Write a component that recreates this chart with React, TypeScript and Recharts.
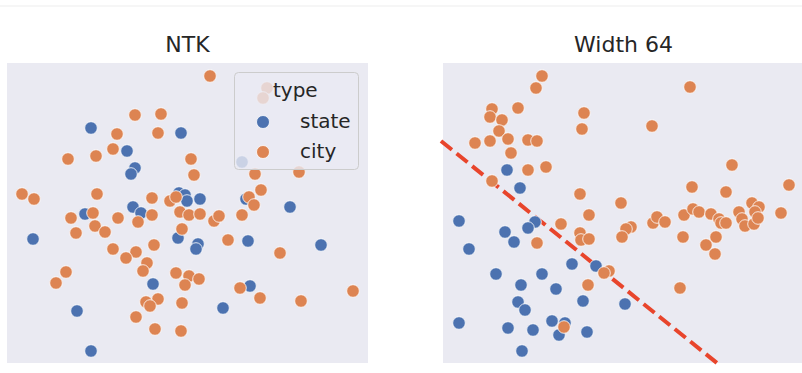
import { ScatterChart, Scatter, XAxis, YAxis, CartesianGrid, ReferenceLine } from "recharts";

// embedding coordinates (arbitrary units, y up)
const ntkState = [
  [84, 235], [174, 230], [120, 212], [128, 195], [124, 189], [235, 201], [172, 170], [178, 168],
  [180, 162], [193, 164], [239, 164], [283, 156], [126, 156], [134, 150], [78, 149], [26, 124],
  [171, 125], [191, 119], [189, 114], [241, 122], [314, 118], [146, 79], [243, 77], [216, 55],
  [70, 52], [84, 12],
];

const ntkCity = [
  [203, 287], [128, 248], [154, 249], [110, 229], [151, 230], [106, 214], [61, 204], [89, 207],
  [184, 204], [187, 188], [248, 189], [292, 191], [260, 275], [256, 265], [254, 173], [15, 169],
  [27, 164], [90, 169], [145, 165], [163, 162], [169, 166], [242, 166], [247, 158], [145, 148],
  [86, 150], [64, 145], [111, 145], [131, 141], [173, 151], [182, 148], [193, 149], [207, 142],
  [212, 147], [235, 148], [88, 137], [69, 130], [98, 131], [175, 134], [221, 123], [147, 118],
  [106, 114], [129, 111], [119, 105], [273, 110], [140, 100], [136, 92], [59, 91], [49, 80],
  [169, 90], [182, 87], [192, 84], [178, 78], [233, 75], [253, 65], [346, 72], [294, 62],
  [151, 64], [139, 61], [143, 57], [175, 60], [129, 46], [148, 34], [174, 32],
];

const w64State = [
  [64, 193], [77, 175], [16, 142], [92, 141], [85, 135], [62, 131], [71, 121], [26, 114],
  [129, 99], [153, 97], [53, 89], [99, 89], [78, 78], [113, 74], [75, 61], [140, 62],
  [82, 53], [182, 59], [16, 40], [65, 35], [90, 33], [109, 42], [122, 40], [116, 28],
  [144, 31], [79, 12],
];

const w64City = [
  [99, 287], [93, 275], [247, 276], [49, 254], [47, 246], [75, 255], [59, 243], [141, 250],
  [139, 234], [56, 232], [209, 237], [32, 220], [47, 222], [65, 224], [85, 223], [94, 222],
  [68, 210], [85, 193], [103, 196], [289, 198], [49, 182], [249, 176], [283, 171], [346, 178],
  [137, 169], [178, 160], [309, 160], [316, 156], [312, 151], [118, 139], [146, 148], [137, 130],
  [138, 123], [146, 124], [188, 136], [183, 134], [179, 126], [210, 140], [214, 146], [222, 141],
  [241, 148], [250, 154], [256, 151], [268, 149], [276, 144], [278, 140], [283, 140], [296, 151],
  [299, 144], [302, 137], [311, 139], [315, 145], [338, 150], [240, 126], [273, 126], [263, 118],
  [272, 109], [94, 120], [166, 92], [161, 90], [145, 78], [237, 75], [121, 36],
];

// decision boundary drawn on the Width 64 panel
const boundary = [
  { x: -2, y: 222 },
  { x: 274, y: 0 },
];

const BLUE = "#4C72B0";
const ORANGE = "#DD8452";
const PANEL = "#EAEAF2";
const FONT = '"DejaVu Sans", sans-serif';

const toPoints = (arr: number[][]) => arr.map(([x, y]) => ({ x, y }));

const dot = (color: string) => (props: any) => (
  <circle cx={props.cx} cy={props.cy} r={6.3} fill={color} stroke="#ffffff" strokeWidth={0.8} />
);

function Panel({ state, city, left, width, margin, line }: any) {
  return (
    <div style={{ position: "absolute", left, top: 0 }}>
      <ScatterChart width={width} height={373} margin={margin}>
        <CartesianGrid fill={PANEL} fillOpacity={1} horizontal={false} vertical={false} stroke="none" />
        <XAxis type="number" dataKey="x" domain={[0, 361]} allowDataOverflow hide />
        <YAxis type="number" dataKey="y" domain={[0, 300]} allowDataOverflow hide />
        <Scatter data={toPoints(state)} shape={dot(BLUE)} isAnimationActive={false} />
        <Scatter data={toPoints(city)} shape={dot(ORANGE)} isAnimationActive={false} />
        {line && (
          <ReferenceLine
            segment={line}
            stroke="#E8452C"
            strokeWidth={4}
            strokeDasharray="14 6"
            ifOverflow="visible"
          />
        )}
      </ScatterChart>
    </div>
  );
}

export default function App() {
  return (
    <div
      style={{
        position: "absolute",
        left: 0,
        top: 0,
        width: 802,
        height: 373,
        background: "#ffffff",
        overflow: "hidden",
        fontFamily: FONT,
      }}
    >
      <div style={{ position: "absolute", left: 0, top: 5, width: 802, height: 2, background: "#f6f6f6" }} />
      <Panel
        state={ntkState}
        city={ntkCity}
        left={0}
        width={400}
        margin={{ top: 63, left: 7, right: 32, bottom: 10 }}
      />
      <Panel
        state={w64State}
        city={w64City}
        left={400}
        width={404}
        margin={{ top: 63, left: 43, right: 0, bottom: 10 }}
        line={boundary}
      />
      <svg
        width={802}
        height={373}
        style={{ position: "absolute", left: 0, top: 0, pointerEvents: "none" }}
        fontFamily={FONT}
      >
        <text x={187.5} y={52} textAnchor="middle" fontSize={22} fill="#262626">
          NTK
        </text>
        <text x={623.5} y={52} textAnchor="middle" fontSize={22} fill="#262626">
          Width 64
        </text>
        <rect x={234.5} y={72.5} width={124} height={97} rx={4} fill={PANEL} fillOpacity={0.8} stroke="#cccccc" />
        <text x={273} y={97} fontSize={20} fill="#262626">
          type
        </text>
        <circle cx={263} cy={122} r={6.5} fill={BLUE} stroke="#fff" strokeWidth={0.8} />
        <text x={300} y={128} fontSize={20} fill="#262626">
          state
        </text>
        <circle cx={263} cy={152} r={6.5} fill={ORANGE} stroke="#fff" strokeWidth={0.8} />
        <text x={300} y={158} fontSize={20} fill="#262626">
          city
        </text>
      </svg>
    </div>
  );
}
